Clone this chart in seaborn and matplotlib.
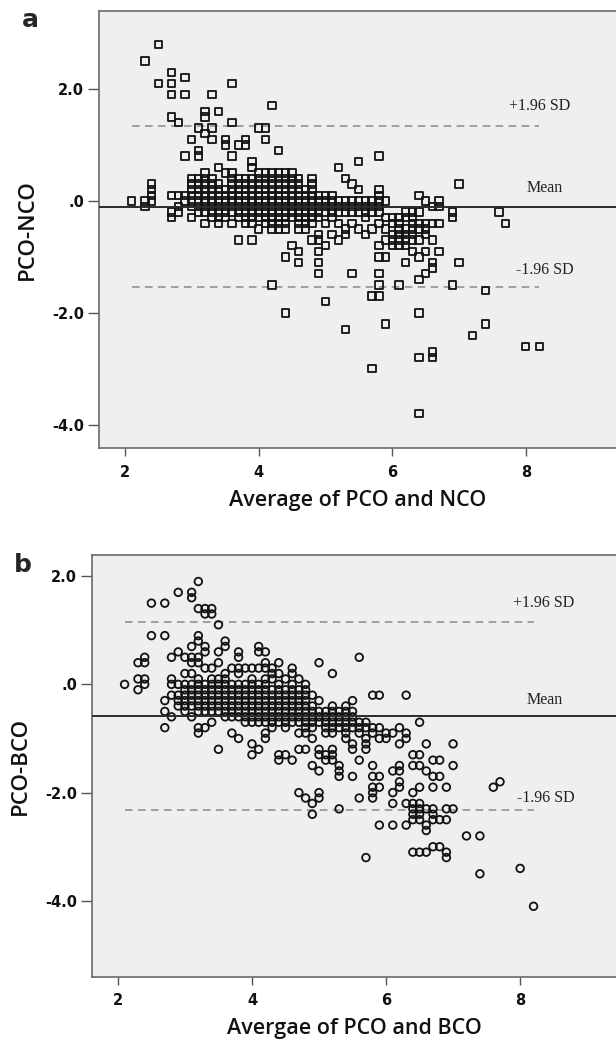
import numpy as np
import pandas as pd
import matplotlib.pyplot as plt
import seaborn as sns

# panel a: average (x) and the PCO-NCO differences seen in that column
a_avg = [2.1, 2.3, 2.4, 2.5, 2.7, 2.8, 2.9, 3.0, 3.1, 3.2, 3.3, 3.4, 3.5, 3.6, 3.7, 3.8, 3.9,
         4.0, 4.1, 4.2, 4.3, 4.4, 4.5, 4.6, 4.7, 4.8, 4.9, 5.0, 5.1, 5.2, 5.3, 5.4, 5.5, 5.6,
         5.7, 5.8, 5.9, 6.0, 6.1, 6.2, 6.3, 6.4, 6.5, 6.6, 6.7, 6.9, 7.0, 7.2, 7.4, 7.6, 7.7,
         8.0, 8.2]
a_diff = [
    [0.0],
    [2.5, 0.0, -0.1],
    [0.3, 0.2, 0.1, 0.0],
    [2.8, 2.1],
    [2.3, 2.1, 1.9, 1.5, 0.1, -0.2, -0.3],
    [1.4, 0.1, -0.1, -0.2],
    [2.2, 1.9, 0.8, 0.1, 0.0],
    [1.1, 0.4, 0.3, 0.2, 0.1, 0.0, -0.1, -0.3],
    [1.3, 0.9, 0.8, 0.4, 0.3, 0.2, 0.1, 0.0, -0.1, -0.2],
    [1.6, 1.5, 1.2, 0.5, 0.4, 0.3, 0.2, 0.1, 0.0, -0.1, -0.2, -0.4],
    [1.9, 1.3, 1.1, 0.4, 0.3, 0.2, 0.1, 0.0, -0.1, -0.2, -0.3],
    [1.6, 0.6, 0.3, 0.2, 0.1, 0.0, -0.1, -0.2, -0.3, -0.4],
    [1.1, 1.0, 0.5, 0.2, 0.1, 0.0, -0.1, -0.2, -0.3],
    [2.1, 1.4, 0.8, 0.5, 0.4, 0.3, 0.2, 0.1, 0.0, -0.1, -0.2, -0.4],
    [1.0, 0.4, 0.3, 0.2, 0.1, 0.0, -0.1, -0.2, -0.3, -0.7],
    [1.1, 1.0, 0.4, 0.3, 0.2, 0.1, 0.0, -0.1, -0.2, -0.3, -0.4],
    [0.7, 0.6, 0.4, 0.3, 0.2, 0.1, 0.0, -0.1, -0.2, -0.3, -0.4, -0.7],
    [1.3, 0.5, 0.4, 0.3, 0.2, 0.1, 0.0, -0.1, -0.2, -0.3, -0.5],
    [1.3, 1.1, 0.5, 0.4, 0.3, 0.2, 0.1, 0.0, -0.1, -0.2, -0.3, -0.4],
    [1.7, 0.5, 0.4, 0.3, 0.2, 0.1, 0.0, -0.1, -0.2, -0.3, -0.4, -0.5, -1.5],
    [0.9, 0.5, 0.4, 0.3, 0.2, 0.1, 0.0, -0.1, -0.2, -0.3, -0.4, -0.5],
    [0.5, 0.4, 0.3, 0.2, 0.1, 0.0, -0.1, -0.2, -0.3, -0.4, -0.5, -1.0, -2.0],
    [0.5, 0.4, 0.3, 0.2, 0.1, 0.0, -0.1, -0.2, -0.3, -0.8],
    [0.4, 0.3, 0.2, 0.1, 0.0, -0.1, -0.2, -0.3, -0.4, -0.5, -0.9, -1.1],
    [0.2, 0.1, 0.0, -0.1, -0.2, -0.3, -0.4, -0.5],
    [0.4, 0.3, 0.2, 0.1, 0.0, -0.1, -0.2, -0.3, -0.4, -0.7],
    [0.1, 0.0, -0.1, -0.2, -0.3, -0.6, -0.7, -0.9, -1.1, -1.3],
    [0.1, 0.0, -0.1, -0.2, -0.4, -0.8, -1.8],
    [0.1, 0.0, -0.1, -0.2, -0.3, -0.6],
    [0.6, 0.0, -0.1, -0.2, -0.4, -0.7],
    [0.4, 0.0, -0.1, -0.2, -0.5, -0.6, -2.3],
    [0.3, 0.0, -0.1, -0.2, -0.4, -1.3],
    [0.7, 0.2, 0.0, -0.1, -0.2, -0.5],
    [0.0, -0.1, -0.2, -0.3, -0.6],
    [0.0, -0.1, -0.2, -0.5, -1.7, -3.0],
    [0.8, 0.2, 0.1, 0.0, -0.1, -0.2, -0.4, -0.8, -1.0, -1.3, -1.5, -1.7],
    [0.0, -0.3, -0.5, -0.7, -1.0, -2.2],
    [-0.3, -0.4, -0.6, -0.7, -0.8],
    [-0.3, -0.4, -0.5, -0.6, -0.7, -0.8, -1.5],
    [-0.2, -0.3, -0.5, -0.6, -0.7, -0.8, -1.1],
    [-0.2, -0.3, -0.4, -0.5, -0.6, -0.7, -0.9],
    [0.1, -0.2, -0.4, -0.5, -0.7, -1.0, -1.4, -2.0, -2.8, -3.8],
    [0.0, -0.4, -0.5, -0.6, -0.9, -1.3],
    [-0.1, -0.4, -0.7, -1.1, -1.2, -2.7, -2.8],
    [0.0, -0.1, -0.4, -0.9],
    [-0.2, -0.3, -1.5],
    [0.3, -1.1],
    [-2.4],
    [-1.6, -2.2],
    [-0.2],
    [-0.4],
    [-2.6],
    [-2.6],
]
a_mean, a_upper, a_lower = -0.10, 1.34, -1.54

# panel b: average (x) and the PCO-BCO differences
b_avg = [2.1, 2.3, 2.4, 2.5, 2.7, 2.8, 2.9, 3.0, 3.1, 3.2, 3.3, 3.4, 3.5, 3.6, 3.7, 3.8, 3.9,
         4.0, 4.1, 4.2, 4.3, 4.4, 4.5, 4.6, 4.7, 4.8, 4.9, 5.0, 5.1, 5.2, 5.3, 5.4, 5.5, 5.6,
         5.7, 5.8, 5.9, 6.0, 6.1, 6.2, 6.3, 6.4, 6.5, 6.6, 6.7, 6.8, 6.9, 7.0, 7.2, 7.4, 7.6,
         7.7, 8.0, 8.2]
b_diff = [
    [0.0],
    [0.4, 0.1, -0.1],
    [0.5, 0.4, 0.1, 0.0],
    [1.5, 0.9],
    [1.5, 0.9, -0.3, -0.5, -0.8],
    [0.5, 0.1, 0.0, -0.2, -0.6],
    [1.7, 0.6, 0.0, -0.2, -0.3, -0.4],
    [0.5, 0.2, 0.0, -0.1, -0.2, -0.3, -0.4, -0.5],
    [1.7, 1.6, 0.7, 0.5, 0.4, 0.2, 0.0, -0.1, -0.2, -0.3, -0.4, -0.6],
    [1.9, 1.4, 0.9, 0.8, 0.5, 0.4, 0.1, 0.0, -0.1, -0.2, -0.3, -0.4, -0.5, -0.8, -0.9],
    [1.4, 1.3, 0.7, 0.6, 0.3, 0.0, -0.1, -0.2, -0.3, -0.4, -0.5, -0.8],
    [1.4, 1.3, 0.3, 0.1, 0.0, -0.1, -0.2, -0.3, -0.4, -0.5, -0.7],
    [1.1, 0.6, 0.4, 0.1, 0.0, -0.1, -0.2, -0.3, -0.4, -0.5, -1.2],
    [0.8, 0.7, 0.2, 0.1, 0.0, -0.1, -0.2, -0.3, -0.4, -0.5, -0.6],
    [0.3, 0.0, -0.1, -0.2, -0.3, -0.4, -0.5, -0.6, -0.9],
    [0.6, 0.5, 0.3, 0.2, 0.0, -0.1, -0.2, -0.3, -0.4, -0.5, -0.6, -1.0],
    [0.3, 0.0, -0.1, -0.2, -0.3, -0.4, -0.5, -0.6, -0.7],
    [0.3, 0.1, 0.0, -0.1, -0.2, -0.3, -0.4, -0.5, -0.6, -0.7, -1.1, -1.3],
    [0.7, 0.6, 0.3, 0.0, -0.1, -0.2, -0.3, -0.4, -0.5, -0.6, -0.7, -1.2],
    [0.6, 0.4, 0.3, 0.1, 0.0, -0.1, -0.2, -0.3, -0.4, -0.5, -0.6, -0.7, -0.9, -1.0],
    [0.3, 0.2, 0.1, -0.1, -0.2, -0.3, -0.4, -0.5, -0.6, -0.7, -0.8],
    [0.4, 0.2, 0.0, -0.1, -0.2, -0.3, -0.4, -0.5, -0.6, -0.7, -1.3, -1.4],
    [0.1, -0.1, -0.2, -0.3, -0.4, -0.5, -0.6, -0.7, -0.8, -1.3],
    [0.3, 0.2, 0.0, -0.1, -0.2, -0.3, -0.4, -0.5, -0.6, -0.7, -1.4],
    [0.1, -0.1, -0.2, -0.3, -0.4, -0.5, -0.6, -0.7, -0.9, -1.2, -2.0],
    [0.0, -0.1, -0.2, -0.3, -0.4, -0.5, -0.6, -0.7, -0.8, -0.9, -1.2, -2.1],
    [-0.2, -0.4, -0.5, -0.6, -0.7, -0.8, -1.0, -1.5, -2.2, -2.4],
    [0.4, -0.3, -0.5, -0.6, -0.7, -1.2, -1.3, -1.6, -2.0, -2.1],
    [-0.5, -0.6, -0.7, -0.8, -0.9, -1.3, -1.4],
    [0.2, -0.4, -0.5, -0.6, -0.7, -0.8, -0.9, -1.2, -1.3, -1.4],
    [-0.5, -0.6, -0.7, -0.8, -1.5, -1.6, -1.7, -2.3],
    [-0.4, -0.5, -0.6, -0.7, -0.8, -0.9, -1.0],
    [-0.3, -0.5, -0.6, -0.7, -0.8, -1.1, -1.2, -1.7],
    [0.5, -0.7, -0.8, -0.9, -1.4, -2.1],
    [-0.7, -0.8, -1.0, -1.1, -1.2, -3.2],
    [-0.2, -0.8, -0.9, -1.5, -1.7, -1.9, -2.0, -2.1],
    [-0.2, -0.8, -1.0, -1.7, -1.9, -2.6],
    [-0.9, -1.0],
    [-0.9, -1.6, -2.0, -2.2, -2.6],
    [-0.8, -1.1, -1.5, -1.6, -1.8, -1.9],
    [-0.2, -0.9, -1.0, -2.2, -2.6],
    [-1.3, -1.5, -2.0, -2.2, -2.3, -2.4, -2.5, -3.1],
    [-0.7, -1.3, -1.5, -1.9, -2.2, -2.3, -2.4, -2.5, -3.1],
    [-1.1, -1.6, -2.3, -2.6, -2.7, -3.1],
    [-1.4, -1.7, -1.9, -2.3, -2.4, -2.5, -3.0],
    [-1.4, -1.7, -2.5, -3.0],
    [-1.9, -2.3, -2.5, -3.1, -3.2],
    [-1.1, -1.5, -2.3],
    [-2.8],
    [-2.8, -3.5],
    [-1.9],
    [-1.8],
    [-3.4],
    [-4.1],
]
b_mean, b_upper, b_lower = -0.59, 1.15, -2.33

x_ticks = [2, 4, 6, 8]
y_ticks = [2.0, 0.0, -2.0, -4.0]
y_tick_labels = ['2.0', '.0', '-2.0', '-4.0']

sns.set_style('white')
plt.rcParams['font.family'] = ['DejaVu Sans']

fig = plt.figure(figsize=(6.16, 10.43), dpi=100)
ax_a = fig.add_axes([0.1614, 0.5702, 0.8386, 0.4196])
ax_b = fig.add_axes([0.1498, 0.0636, 0.8502, 0.4043])

bg = '#efefef'


def draw_panel(ax, avg, diff, mean, upper, lower, marker, size, xlim, ylim, xlabel, ylabel, letter, txt_x, txt_y):
    df = pd.DataFrame({'avg': avg, 'diff': diff}).explode('diff')
    df['diff'] = df['diff'].astype(float)

    ax.set_facecolor(bg)
    sns.scatterplot(x='avg', y='diff', data=df, ax=ax, marker=marker, s=size,
                    facecolors='none', edgecolor='#111111', linewidth=1.3, zorder=3)

    x0, x1 = df['avg'].min(), df['avg'].max()
    ax.axhline(mean, color='#2b2b2b', linewidth=1.4, zorder=4)
    ax.plot([x0, x1], [upper, upper], color='#8a8a8a', linestyle=(0, (5, 3.5)), linewidth=1.1, zorder=2)
    ax.plot([x0, x1], [lower, lower], color='#8a8a8a', linestyle=(0, (5, 3.5)), linewidth=1.1, zorder=2)

    serif = dict(family='Liberation Serif', fontsize=11.5, color='#222222', ha='center', va='center')
    ax.text(txt_x[0], txt_y[0], '+1.96 SD', **serif)
    ax.text(txt_x[1], txt_y[1], 'Mean', **serif)
    ax.text(txt_x[2], txt_y[2], '-1.96 SD', **serif)

    ax.set_xlim(xlim)
    ax.set_ylim(ylim)
    ax.set_xticks(x_ticks)
    ax.set_xticklabels([str(t) for t in x_ticks])
    ax.set_yticks(y_ticks)
    ax.set_yticklabels(y_tick_labels)
    ax.tick_params(axis='y', direction='out', length=8, width=1.0, color='#555555',
                   labelsize=10.5, pad=3, left=True, labelcolor='#111111')
    ax.tick_params(axis='x', direction='out', length=6, width=1.0, color='#555555',
                   labelsize=10.5, pad=6, bottom=True, labelcolor='#111111')
    for lab in ax.get_xticklabels() + ax.get_yticklabels():
        lab.set_fontweight('bold')

    for side in ['left', 'bottom', 'top']:
        ax.spines[side].set_color('#6a6a6a')
        ax.spines[side].set_linewidth(1.2)
    ax.spines['right'].set_visible(False)

    ax.set_xlabel(xlabel, family='Open Sans', fontsize=15.5, fontweight='semibold',
                  color='#111111', labelpad=7)
    ax.set_ylabel(ylabel, family='Open Sans', fontsize=16, fontweight='semibold',
                  color='#111111', labelpad=10)
    ax.text(-0.15, 1.005, letter, transform=ax.transAxes, fontsize=18, fontweight='bold',
            ha='left', va='top')


draw_panel(ax_a, a_avg, a_diff, a_mean, a_upper, a_lower, 's', 28,
           (1.617, 9.35), (-4.42, 3.40), 'Average of PCO and NCO', 'PCO-NCO', 'a',
           [8.21, 8.29, 8.28], [1.70, 0.23, -1.24])
draw_panel(ax_b, b_avg, b_diff, b_mean, b_upper, b_lower, 'o', 30,
           (1.618, 9.43), (-5.40, 2.39), 'Avergae of PCO and BCO', 'PCO-BCO', 'b',
           [8.35, 8.37, 8.39], [1.50, -0.29, -2.10])

plt.savefig('out.png', dpi=100)
